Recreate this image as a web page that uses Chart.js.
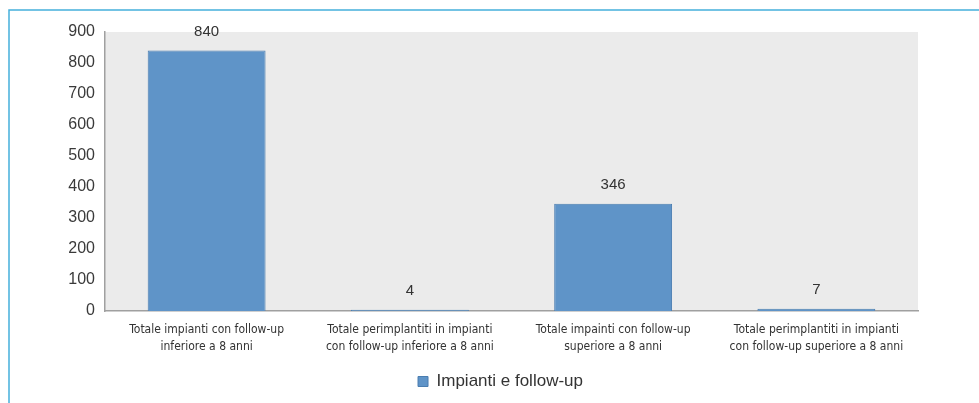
<!DOCTYPE html>
<html>
<head>
<meta charset="utf-8">
<script src="https://cdn.jsdelivr.net/npm/chart.js@4"></script>
<style>
  html, body { margin: 0; padding: 0; background: #fff; }
  #wrap { width: 979px; height: 403px; position: relative; }
</style>
</head>
<body>
<div id="wrap"><canvas id="chartImpianti"></canvas></div>
<script>
const categorie = [
    ['Totale impianti con follow-up', 'inferiore a 8 anni'],
    ['Totale perimplantiti in impianti', 'con follow-up inferiore a 8 anni'],
    ['Totale impainti con follow-up', 'superiore a 8 anni'],
    ['Totale perimplantiti in impianti', 'con follow-up superiore a 8 anni']
];
const valori = [840, 4, 346, 7];
const nomeSerie = 'Impianti e follow-up';

// cornice azzurra + sfondo grigio dell'area del grafico
const sfondo = {
    id: 'sfondo',
    afterLayout(chart) {
        // la legenda è un po' spostata a destra
        chart.legend.left += 19;
        chart.legend.right += 19;
    },
    beforeDraw(chart) {
        const c = chart.ctx;
        const a = chart.chartArea;
        c.save();
        c.fillStyle = '#ebebeb';
        c.fillRect(a.left, a.top, a.right - a.left, a.bottom - a.top);
        c.strokeStyle = '#45b0dc';
        c.lineWidth = 1.5;
        c.beginPath();
        c.moveTo(9, chart.height);
        c.lineTo(9, 10);
        c.lineTo(chart.width, 10);
        c.stroke();
        c.restore();
    }
};

// etichette dei valori sopra le barre
const etichette = {
    id: 'etichette',
    afterDatasetsDraw(chart) {
        const c = chart.ctx;
        const meta = chart.getDatasetMeta(0);
        c.save();
        c.font = '15px "Liberation Sans", Arial, sans-serif';
        c.fillStyle = '#333';
        c.textAlign = 'center';
        c.textBaseline = 'bottom';
        meta.data.forEach((bar, i) => {
            c.fillText(valori[i], bar.x, bar.y - 11);
        });
        c.restore();
    }
};

const ctx = document.getElementById('chartImpianti').getContext('2d');
const chartImpianti = new Chart(ctx, {
    type: 'bar',
    data: {
        labels: categorie,
        datasets: [{
            label: nomeSerie,
            data: valori,
            backgroundColor: '#5f94c8',
            borderColor: '#4a7db0',
            borderWidth: 1,
            categoryPercentage: 0.58,
            barPercentage: 1
        }]
    },
    options: {
        responsive: true,
        maintainAspectRatio: false,
        animation: false,
        layout: { padding: { left: 45, right: 61, top: 32, bottom: 3 } },
        plugins: {
            tooltip: { enabled: false },
            legend: {
                position: 'bottom',
                labels: {
                    boxWidth: 10,
                    boxHeight: 10,
                    padding: 12,
                    color: '#333',
                    font: { size: 17, family: '"Liberation Sans", Arial, sans-serif' }
                }
            }
        },
        scales: {
            x: {
                grid: { display: false },
                border: { display: true, color: '#a0a0a0', width: 1.5 },
                ticks: {
                    color: '#333',
                    maxRotation: 0,
                    padding: 2,
                    font: { size: 12, lineHeight: 1.45, family: '"Liberation Sans Narrow", "DejaVu Sans Condensed", sans-serif' }
                },
                afterFit(scale) { scale.height = 50; }
            },
            y: {
                min: 0,
                max: 900,
                grid: { display: false },
                border: { display: true, color: '#a0a0a0', width: 1.5 },
                ticks: {
                    stepSize: 100,
                    color: '#3a3a3a',
                    padding: 2,
                    font: { size: 16, family: '"Liberation Sans", Arial, sans-serif' }
                },
                afterFit(scale) { scale.width = 60; }
            }
        }
    },
    plugins: [sfondo, etichette]
});
</script>
</body>
</html>
